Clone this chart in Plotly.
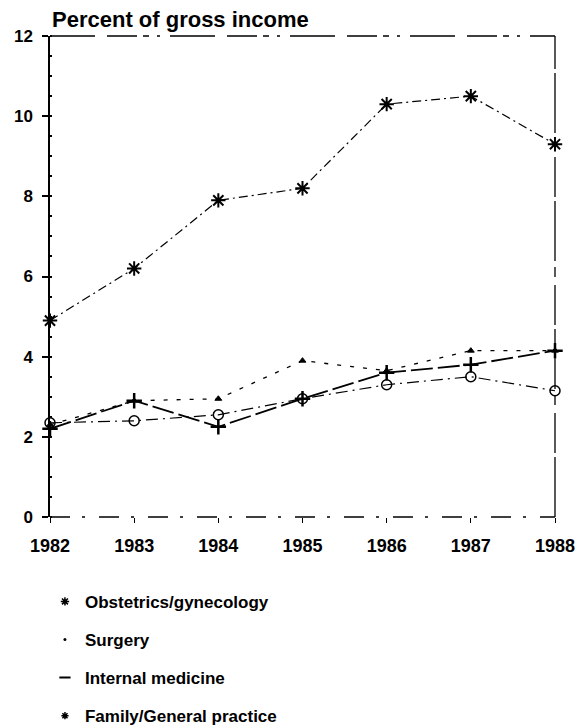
import plotly.graph_objects as go

# Professional liability costs as a share of gross income, by specialty
years = [1982, 1983, 1984, 1985, 1986, 1987, 1988]
obgyn = [4.9, 6.2, 7.9, 8.2, 10.3, 10.5, 9.3]
surgery = [2.3, 2.9, 2.95, 3.9, 3.65, 4.15, 4.15]
internal_med = [2.35, 2.4, 2.55, 2.95, 3.3, 3.5, 3.15]
family_gp = [2.2, 2.9, 2.25, 2.95, 3.6, 3.8, 4.15]

y_ticks = [0, 2, 4, 6, 8, 10, 12]
x_ticks = years

FONT = "Liberation Sans"
INK = "black"

series = [
    ("Obstetrics/gynecology", obgyn,
     dict(dash="9px,4px,2px,4px", width=1.2),
     dict(symbol="asterisk-open", size=12, color=INK, line=dict(width=2, color=INK))),
    ("Surgery", surgery,
     dict(dash="4px,9px", width=1.3),
     dict(symbol="triangle-up", size=6, color=INK, line=dict(width=1, color=INK))),
    ("Internal medicine", internal_med,
     dict(dash="12px,5px,2px,5px", width=1.2),
     dict(symbol="circle-open", size=10, color=INK, line=dict(width=1.5, color=INK))),
    ("Family/General practice", family_gp,
     dict(dash="22px,5px", width=1.8),
     dict(symbol="cross-thin-open", size=11, color=INK, line=dict(width=2.5, color=INK))),
]

legend_marks = [
    dict(symbol="asterisk-open", size=7, color=INK, line=dict(width=1.5, color=INK)),
    dict(symbol="circle", size=3, color=INK),
    dict(symbol="line-ew-open", size=8, color=INK, line=dict(width=2, color=INK)),
    dict(symbol="asterisk-open", size=6, color=INK, line=dict(width=1.5, color=INK)),
]

fig = go.Figure()
for i, (name, vals, line, marker) in enumerate(series):
    fig.add_trace(go.Scatter(
        x=years, y=vals, mode="lines+markers", name=name,
        line=dict(color=INK, **line), marker=marker,
        showlegend=False, cliponaxis=False,
    ))
for i, (name, *_ ) in enumerate(series):
    fig.add_trace(go.Scatter(
        x=[None], y=[None], mode="markers", name=name,
        marker=legend_marks[i], legendgroup=f"g{i}", showlegend=True,
    ))

# frame: broken top and right edges, dash-dot baseline
fig.add_shape(type="line", xref="paper", yref="paper", x0=0, x1=1, y0=1, y1=1,
              line=dict(color=INK, width=1.3, dash="45px,12px,30px,6px,6px,8px,3px,10px"))
fig.add_shape(type="line", xref="paper", yref="paper", x0=1, x1=1, y0=0, y1=1,
              line=dict(color=INK, width=1.3, dash="60px,4px,40px,8px,10px,6px"))
fig.add_shape(type="line", xref="paper", yref="paper", x0=0, x1=1, y0=0, y1=0,
              line=dict(color=INK, width=1.3, dash="20px,12px,3px,14px"))

fig.add_annotation(
    text="<b>Percent of gross income</b>", xref="paper", yref="paper",
    x=0, y=1, xanchor="left", yanchor="bottom", yshift=2, showarrow=False,
    font=dict(family=FONT, size=22, color=INK),
)

fig.update_layout(
    width=588, height=726,
    margin=dict(l=50, r=33, t=36, b=209, autoexpand=False),
    paper_bgcolor="white", plot_bgcolor="white",
    font=dict(family=FONT, color=INK),
    showlegend=True,
    legend=dict(
        x=-0.01, y=-0.139, xanchor="left", yanchor="top",
        traceorder="grouped", tracegroupgap=13, itemwidth=30,
        font=dict(family=FONT, size=17, color=INK, weight="bold"),
        bgcolor="rgba(0,0,0,0)",
    ),
    xaxis=dict(
        range=[1982, 1988], tickvals=x_ticks, ticktext=[str(v) for v in x_ticks],
        showgrid=False, zeroline=False, showline=False,
        ticks="outside", ticklen=5, tickwidth=1.2, tickcolor=INK,
        ticklabelstandoff=7,
        tickfont=dict(family=FONT, size=18, color=INK, weight="bold"),
    ),
    yaxis=dict(
        range=[0, 12], tickvals=y_ticks, showgrid=False, zeroline=False,
        showline=True, linecolor=INK, linewidth=1.5,
        ticks="outside", ticklen=6, tickwidth=1.5, tickcolor=INK,
        ticklabelstandoff=6,
        minor=dict(dtick=0.5, ticks="inside", ticklen=2, tickcolor=INK),
        tickfont=dict(family=FONT, size=17, color=INK, weight="bold"),
    ),
)

fig.write_html("out.html")
